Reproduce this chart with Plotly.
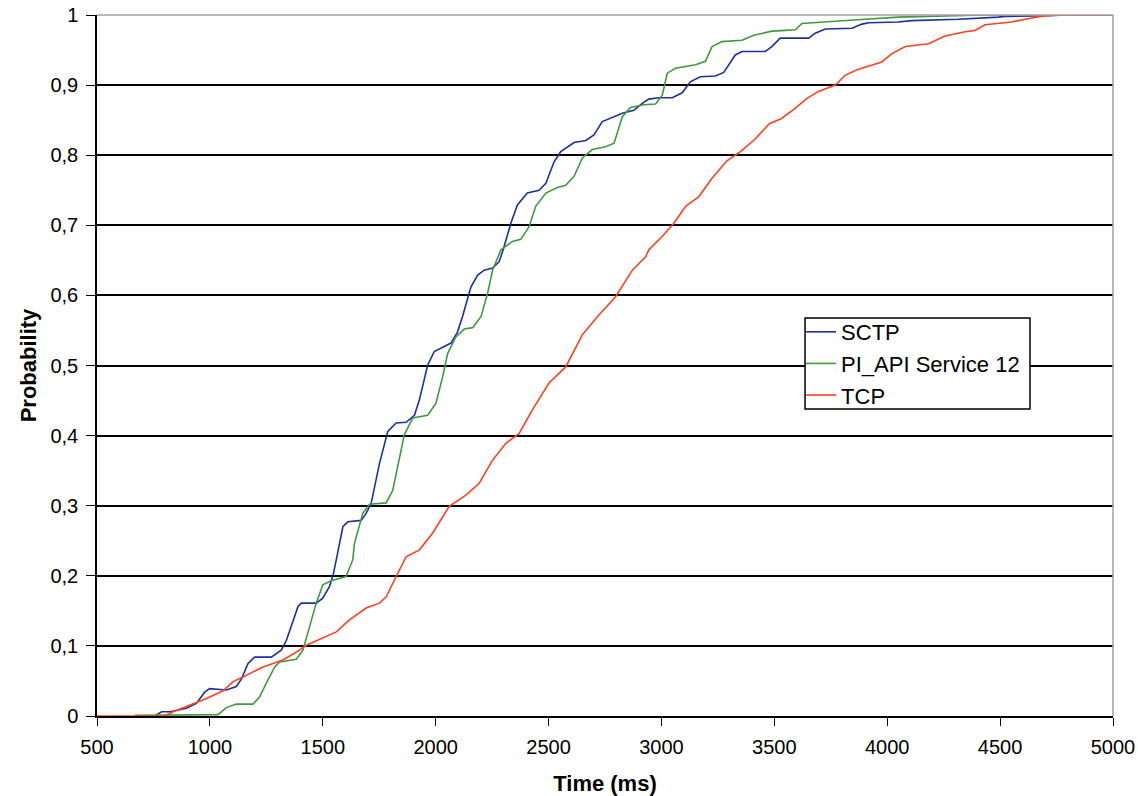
import plotly.graph_objects as go

# ---- data ----
sctp_ms = [700, 756, 786, 823, 896, 940, 977, 999, 1073, 1117, 1140, 1169, 1198, 1272, 1316, 1339, 1390, 1405,
           1471, 1500, 1530, 1545, 1560, 1589, 1611, 1670, 1692, 1714, 1751, 1788, 1825, 1869, 1906, 1928, 1964,
           1994, 2031, 2068, 2097, 2119, 2156, 2186, 2215, 2252, 2281, 2299, 2333, 2362, 2406, 2458, 2488, 2525,
           2554, 2613, 2665, 2701, 2738, 2782, 2827, 2878, 2915, 2944, 2989, 3048, 3092, 3129, 3173, 3239, 3276,
           3327, 3357, 3460, 3489, 3526, 3652, 3681, 3726, 3844, 3888, 3918, 4050, 4109, 4286, 4315, 4492, 4522,
           4713, 4787, 5000]
sctp_p = [0, 0, 0.006, 0.006, 0.011, 0.018, 0.034, 0.039, 0.037, 0.042, 0.053, 0.075, 0.084, 0.084, 0.094, 0.108,
          0.156, 0.161, 0.161, 0.168, 0.185, 0.2, 0.223, 0.270, 0.277, 0.279, 0.289, 0.303, 0.360, 0.406, 0.418,
          0.419, 0.429, 0.451, 0.5, 0.520, 0.526, 0.532, 0.548, 0.570, 0.612, 0.629, 0.636, 0.639, 0.648, 0.665,
          0.703, 0.729, 0.746, 0.750, 0.760, 0.791, 0.805, 0.818, 0.821, 0.829, 0.848, 0.854, 0.860, 0.864, 0.874,
          0.880, 0.882, 0.882, 0.889, 0.905, 0.912, 0.913, 0.918, 0.943, 0.948, 0.948, 0.955, 0.967, 0.967, 0.974,
          0.980, 0.981, 0.987, 0.989, 0.990, 0.992, 0.993, 0.994, 0.997, 0.998, 0.999, 1.0, 1.0]

piapi_ms = [668, 1000, 1036, 1073, 1117, 1191, 1220, 1250, 1287, 1309, 1383, 1412, 1442, 1471, 1500, 1537, 1603,
            1633, 1640, 1677, 1707, 1781, 1810, 1839, 1861, 1898, 1964, 2001, 2031, 2053, 2090, 2127, 2164, 2201,
            2230, 2252, 2267, 2289, 2340, 2377, 2414, 2443, 2488, 2539, 2576, 2613, 2650, 2694, 2753, 2790, 2827,
            2863, 2922, 2974, 3004, 3026, 3062, 3151, 3195, 3224, 3268, 3357, 3409, 3489, 3548, 3593, 3622, 3784,
            3902, 4050, 4242, 4433, 5000]
piapi_p = [0.001, 0.001, 0.002, 0.012, 0.017, 0.017, 0.027, 0.047, 0.070, 0.077, 0.081, 0.094, 0.127, 0.161, 0.187,
           0.193, 0.199, 0.223, 0.246, 0.289, 0.302, 0.304, 0.322, 0.370, 0.401, 0.425, 0.429, 0.446, 0.484, 0.517,
           0.541, 0.552, 0.554, 0.570, 0.603, 0.636, 0.648, 0.665, 0.677, 0.680, 0.698, 0.727, 0.746, 0.754, 0.757,
           0.770, 0.796, 0.808, 0.812, 0.817, 0.855, 0.868, 0.872, 0.873, 0.886, 0.917, 0.924, 0.929, 0.934, 0.955,
           0.962, 0.964, 0.971, 0.977, 0.978, 0.979, 0.988, 0.991, 0.994, 0.997, 0.999, 1.0, 1.0]

tcp_ms = [500, 800, 837, 911, 985, 1058, 1103, 1162, 1235, 1324, 1397, 1427, 1500, 1560, 1618, 1692, 1751, 1781,
          1825, 1869, 1928, 1987, 2060, 2134, 2193, 2252, 2311, 2370, 2429, 2502, 2576, 2650, 2723, 2797, 2871,
          2930, 2944, 3003, 3055, 3107, 3166, 3224, 3290, 3350, 3412, 3478, 3530, 3585, 3645, 3696, 3770, 3814,
          3866, 3976, 4021, 4080, 4183, 4256, 4345, 4389, 4433, 4551, 4610, 4699, 4787, 5000]
tcp_p = [0, 0, 0.006, 0.015, 0.025, 0.036, 0.049, 0.058, 0.070, 0.080, 0.094, 0.101, 0.111, 0.120, 0.137, 0.154,
         0.161, 0.170, 0.199, 0.227, 0.237, 0.261, 0.299, 0.315, 0.332, 0.365, 0.389, 0.403, 0.437, 0.475, 0.498,
         0.544, 0.572, 0.598, 0.636, 0.655, 0.665, 0.684, 0.703, 0.727, 0.741, 0.767, 0.792, 0.805, 0.822, 0.845,
         0.852, 0.865, 0.881, 0.891, 0.900, 0.914, 0.922, 0.933, 0.945, 0.955, 0.959, 0.970, 0.976, 0.978, 0.986,
         0.990, 0.994, 0.999, 1.0, 1.0]

series_names = ["SCTP", "PI_API Service 12", "TCP"]
x_ticks = [500, 1000, 1500, 2000, 2500, 3000, 3500, 4000, 4500, 5000]
y_ticks = [0, 0.1, 0.2, 0.3, 0.4, 0.5, 0.6, 0.7, 0.8, 0.9, 1]
y_tick_text = ["0", "0,1", "0,2", "0,3", "0,4", "0,5", "0,6", "0,7", "0,8", "0,9", "1"]

colors = ["#1f2f9e", "#3f9a3f", "#ff4020"]
FONT = "Liberation Sans, Arial, sans-serif"

fig = go.Figure()
for xs, ys, name, c in zip([sctp_ms, piapi_ms, tcp_ms], [sctp_p, piapi_p, tcp_p], series_names, colors):
    fig.add_trace(go.Scatter(x=xs, y=ys, mode="lines", name=name,
                             line=dict(color=c, width=1.6)))

fig.update_layout(
    width=1138, height=796,
    margin=dict(l=97, r=25, t=15, b=80),
    paper_bgcolor="white", plot_bgcolor="white",
    font=dict(family=FONT, size=20, color="black"),
    showlegend=True,
    legend=dict(x=0.693, y=0.5777, xanchor="left", yanchor="top",
                bgcolor="rgba(0,0,0,0)", borderwidth=0,
                font=dict(family=FONT, size=22, color="black"),
                tracegroupgap=0, itemwidth=30),
    xaxis=dict(range=[500, 5000], tickvals=x_ticks, ticks="outside", ticklen=8, tickcolor="black",
               showline=True, linecolor="black", linewidth=1.5, showgrid=False, zeroline=False,
               ticklabelstandoff=4, automargin=False,
               title=dict(text="<b>Time (ms)</b>", font=dict(family=FONT, size=22), standoff=20)),
    yaxis=dict(range=[0, 1], tickvals=y_ticks, ticktext=y_tick_text, ticks="outside", ticklen=9,
               tickcolor="black", showline=True, linecolor="black", linewidth=1.5,
               showgrid=True, gridcolor="black", gridwidth=1.5, zeroline=False,
               ticklabelstandoff=4, automargin=False,
               title=dict(text="<b>Probability</b>", font=dict(family=FONT, size=22), standoff=8)),
)

# grey plot-area border on top and right
fig.add_shape(type="line", xref="paper", yref="paper", x0=0, x1=1, y0=1, y1=1,
              line=dict(color="#a0a0a0", width=1.5), layer="above")
fig.add_shape(type="line", xref="paper", yref="paper", x0=1, x1=1, y0=0, y1=1,
              line=dict(color="#a0a0a0", width=1.5), layer="above")
# legend frame (white box behind the legend entries)
fig.add_shape(type="rect", xref="paper", yref="paper", x0=0.6969, x1=0.9183, y0=0.438, y1=0.5678,
              fillcolor="white", line=dict(color="black", width=1.5), layer="above")

fig.write_html("out.html", config={"displayModeBar": False},
               post_script="document.body.style.margin='0';")
